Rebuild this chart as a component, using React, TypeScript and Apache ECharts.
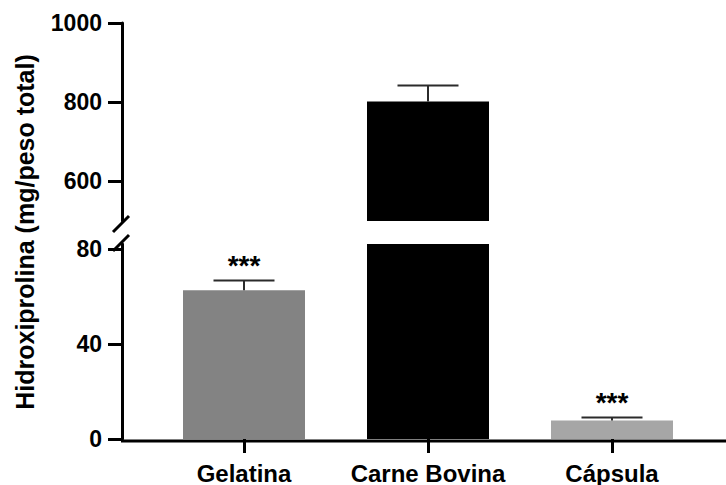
import React, { useEffect, useRef } from "react";
import * as echarts from "echarts";

const categories = ["Gelatina", "Carne Bovina", "Cápsula"];
const means = [62.5, 802, 7.8];
const errorTops = [66.7, 842, 9.0];
const significance = ["***", "", "***"];
const barColors = ["#838383", "#000000", "#a6a6a6"];
const lowerTicks = [0, 40, 80];
const upperTicks = [600, 800, 1000];
const yTitle = "Hidroxiprolina (mg/peso total)";

const FONT = "'Liberation Sans', Arial, Helvetica, sans-serif";

export default function App() {
  const ref = useRef<HTMLDivElement>(null);

  useEffect(() => {
    if (!ref.current) return;
    const chart = echarts.init(ref.current, undefined, { renderer: "svg" });

    const lowerIdx = [0, 2];
    const upperIdx = [1];

    const barData = (idxs: number[]) =>
      categories.map((_, i) =>
        idxs.includes(i) ? { value: means[i], itemStyle: { color: barColors[i] } } : "-"
      );

    const errData = (idxs: number[]) =>
      idxs.map((i) => [i, means[i], errorTops[i]]);

    const renderErr = (params: any, api: any) => {
      const x = api.value(0);
      const base = api.coord([x, api.value(1)]);
      const top = api.coord([x, api.value(2)]);
      const half = 30.5;
      const label = significance[x as number] || "";
      const children: any[] = [
        {
          type: "line",
          shape: { x1: base[0], y1: base[1], x2: top[0], y2: top[1] },
          style: { stroke: "#2b2b2b", lineWidth: 2 },
        },
        {
          type: "line",
          shape: { x1: top[0] - half, y1: top[1], x2: top[0] + half, y2: top[1] },
          style: { stroke: "#2b2b2b", lineWidth: 2 },
        },
      ];
      if (label) {
        children.push({
          type: "text",
          x: top[0],
          y: top[1] - 1,
          style: {
            text: label,
            fill: "#000",
            font: `bold 28px ${FONT}`,
            align: "center",
            verticalAlign: "bottom",
          },
        });
      }
      return { type: "group", children };
    };

    const yAxisCommon = {
      type: "value" as const,
      offset: 30,
      axisLine: { show: true, lineStyle: { color: "#000", width: 3 } },
      axisTick: { show: true, length: 14, lineStyle: { color: "#000", width: 3 } },
      axisLabel: {
        margin: 20,
        color: "#000",
        fontSize: 23,
        fontWeight: "bold" as const,
        fontFamily: FONT,
        formatter: (v: number) => String(v),
      },
      splitLine: { show: false },
    };

    chart.setOption({
      animation: false,
      grid: [
        { left: 152, width: 552, top: 23, height: 198 },
        { left: 152, width: 552, top: 244, height: 197 },
      ],
      xAxis: [
        {
          gridIndex: 0,
          type: "category",
          data: categories,
          show: false,
        },
        {
          gridIndex: 1,
          type: "category",
          data: categories,
          axisLine: { show: false },
          axisTick: {
            show: true,
            alignWithLabel: true,
            length: 14,
            lineStyle: { color: "#000", width: 3 },
          },
          axisLabel: {
            interval: 0,
            margin: 22,
            color: "#000",
            fontSize: 24,
            fontWeight: "bold",
            fontFamily: FONT,
          },
        },
      ],
      yAxis: [
        {
          ...yAxisCommon,
          gridIndex: 0,
          min: 500,
          max: 1000,
          axisLabel: { ...yAxisCommon.axisLabel, customValues: upperTicks },
          axisTick: { ...yAxisCommon.axisTick, customValues: upperTicks },
        },
        {
          ...yAxisCommon,
          gridIndex: 1,
          min: 0,
          max: 82,
          axisLabel: { ...yAxisCommon.axisLabel, customValues: lowerTicks },
          axisTick: { ...yAxisCommon.axisTick, customValues: lowerTicks },
        },
      ],
      series: [
        {
          type: "bar",
          xAxisIndex: 0,
          yAxisIndex: 0,
          barWidth: 122,
          clip: true,
          data: barData(upperIdx),
        },
        {
          type: "bar",
          xAxisIndex: 1,
          yAxisIndex: 1,
          barWidth: 122,
          clip: true,
          data: categories.map((_, i) => ({ value: means[i], itemStyle: { color: barColors[i] } })),
        },
        {
          type: "custom",
          xAxisIndex: 0,
          yAxisIndex: 0,
          encode: { x: 0, y: [1, 2] },
          renderItem: renderErr,
          data: errData(upperIdx),
          z: 5,
        },
        {
          type: "custom",
          xAxisIndex: 1,
          yAxisIndex: 1,
          encode: { x: 0, y: [1, 2] },
          renderItem: renderErr,
          data: errData(lowerIdx),
          z: 5,
        },
      ],
      graphic: [
        {
          type: "line",
          shape: { x1: 121, y1: 441, x2: 726, y2: 441 },
          style: { stroke: "#000", lineWidth: 3 },
          z: 10,
        },
        {
          type: "line",
          shape: { x1: 113, y1: 232, x2: 129, y2: 216 },
          style: { stroke: "#000", lineWidth: 3 },
          z: 10,
        },
        {
          type: "line",
          shape: { x1: 113, y1: 251, x2: 129, y2: 235 },
          style: { stroke: "#000", lineWidth: 3 },
          z: 10,
        },
        {
          type: "text",
          x: 25,
          y: 232,
          rotation: Math.PI / 2,
          style: {
            text: yTitle,
            fill: "#000",
            font: `bold 25px ${FONT}`,
            align: "center",
            verticalAlign: "middle",
          },
        },
      ],
    });

    return () => chart.dispose();
  }, []);

  return (
    <div
      ref={ref}
      style={{ position: "fixed", left: 0, top: 0, width: 726, height: 485, background: "#fff" }}
    />
  );
}
